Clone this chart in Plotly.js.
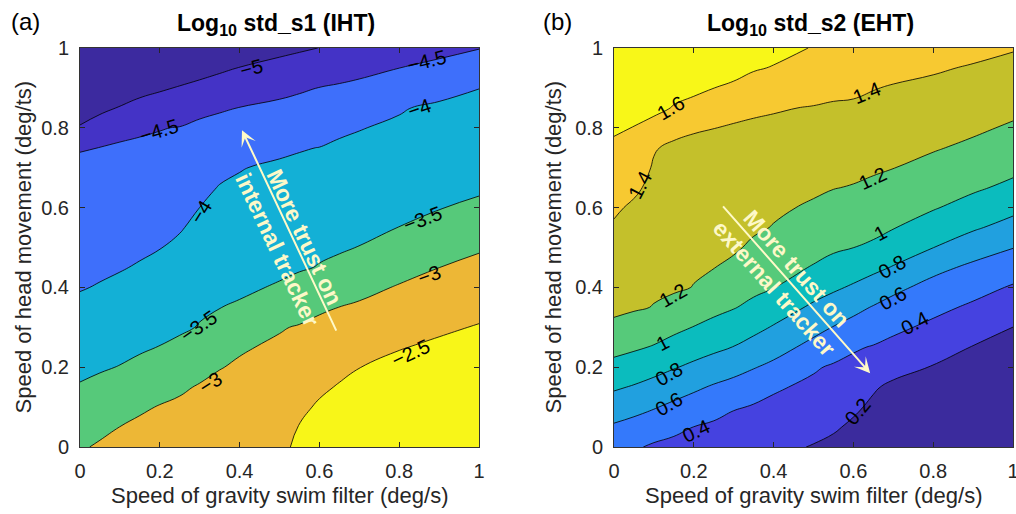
<!DOCTYPE html>
<html><head><meta charset="utf-8">
<script src="https://cdn.plot.ly/plotly-3.0.1.min.js"></script>
<style>html,body{margin:0;padding:0;background:#fff}#chart{width:1016px;height:514px}</style>
</head><body><div id="chart"></div>
<script>
// Grid on which the surfaces were read (speed of swim filter, speed of head movement)
const gridX = [0, 0.05, 0.1, 0.15, 0.2, 0.25, 0.3, 0.35, 0.4, 0.5, 0.55, 0.6, 0.65, 0.7, 0.8, 0.9, 1];
const gridY = [0, 0.05, 0.1, 0.15, 0.2, 0.25, 0.3, 0.35, 0.4, 0.45, 0.5, 0.55, 0.6, 0.65, 0.7, 0.75, 0.8, 0.85, 0.9, 0.95, 1];

// Panel (a): log10 std_s1 (IHT); one column per gridX value, listed from y=0 to y=1
const stdS1Columns = [
  [-3.048,-3.188,-3.329,-3.47,-3.587,-3.698,-3.81,-3.921,-4.021,-4.092,-4.162,-4.233,-4.303,-4.374,-4.445,-4.516,-4.948,-5.32,-5.57,-5.82,-6.07],
  [-2.949,-3.1,-3.251,-3.403,-3.539,-3.649,-3.758,-3.868,-3.978,-4.058,-4.131,-4.204,-4.277,-4.351,-4.424,-4.497,-4.8,-5.099,-5.37,-5.65,-5.92],
  [-2.833,-2.997,-3.16,-3.324,-3.487,-3.6,-3.708,-3.816,-3.924,-4.023,-4.099,-4.175,-4.251,-4.327,-4.403,-4.42,-4.7,-4.978,-5.23,-5.48,-5.73],
  [-2.811,-2.924,-3.056,-3.232,-3.408,-3.55,-3.655,-3.76,-3.866,-3.971,-4.058,-4.138,-4.218,-4.298,-4.377,-4.457,-4.537,-4.858,-5.14,-5.39,-5.64],
  [-2.78,-2.88,-2.98,-3.14,-3.315,-3.49,-3.597,-3.701,-3.805,-3.908,-4.01,-4.094,-4.178,-4.262,-4.346,-4.429,-4.514,-4.796,-5.05,-5.3,-5.55],
  [-2.732,-2.832,-2.932,-3.055,-3.226,-3.397,-3.569,-3.637,-3.735,-3.833,-3.931,-4.028,-4.12,-4.212,-4.304,-4.395,-4.487,-4.719,-4.974,-5.225,-5.475],
  [-2.67,-2.77,-2.87,-2.97,-3.12,-3.286,-3.477,-3.563,-3.65,-3.738,-3.825,-3.913,-3.999,-4.1125,-4.225,-4.337,-4.388,-4.643,-4.898,-5.15,-5.4],
  [-2.657,-2.745,-2.832,-2.92,-3.013,-3.18,-3.346,-3.506,-3.585,-3.664,-3.743,-3.822,-3.901,-3.979,-4.106,-4.25,-4.394,-4.537,-4.818,-5.07,-5.32],
  [-2.64,-2.72,-2.8,-2.88,-2.96,-3.034,-3.256,-3.469,-3.547,-3.626,-3.704,-3.783,-3.862,-3.94,-4.019,-4.189,-4.342,-4.494,-4.74,-4.99,-5.24],
  [-2.56,-2.627,-2.707,-2.786,-2.866,-2.946,-3.025,-3.25,-3.474,-3.555,-3.637,-3.718,-3.8,-3.882,-3.929,-4.09,-4.252,-4.413,-4.615,-4.865,-5.115],
  [-2.45,-2.486,-2.584,-2.681,-2.779,-2.877,-2.975,-3.147,-3.345,-3.544,-3.602,-3.685,-3.769,-3.853,-3.937,-4.02,-4.205,-4.37,-4.553,-4.804,-5.055],
  [-2.3,-2.38,-2.45,-2.569,-2.688,-2.807,-2.926,-3.045,-3.265,-3.481,-3.567,-3.652,-3.738,-3.824,-3.909,-3.995,-4.158,-4.325,-4.493,-4.745,-4.995],
  [-2.14,-2.25,-2.36,-2.47,-2.596,-2.73,-2.864,-2.997,-3.184,-3.372,-3.56,-3.614,-3.701,-3.787,-3.874,-3.918,-4.096,-4.273,-4.45,-4.68,-4.93],
  [-2.0,-2.13,-2.255,-2.38,-2.506,-2.652,-2.798,-2.945,-3.113,-3.296,-3.49,-3.577,-3.665,-3.752,-3.84,-3.927,-4.014,-4.216,-4.403,-4.62,-4.87],
  [-1.89,-2.02,-2.14,-2.27,-2.39,-2.521,-2.67,-2.82,-2.97,-3.142,-3.319,-3.496,-3.587,-3.676,-3.765,-3.854,-3.943,-4.032,-4.288,-4.502,-4.75],
  [-1.805,-1.93,-2.055,-2.18,-2.305,-2.43,-2.564,-2.71,-2.855,-3.002,-3.179,-3.357,-3.518,-3.609,-3.699,-3.79,-3.88,-3.926,-4.157,-4.389,-4.63],
  [-1.725,-1.85,-1.975,-2.1,-2.225,-2.35,-2.475,-2.612,-2.753,-2.893,-3.043,-3.22,-3.397,-3.575,-3.631,-3.724,-3.817,-3.909,-4.005,-4.26,-4.515]
];

// Panel (b): log10 std_s2 (EHT); one column per gridX value, listed from y=0 to y=1
const stdS2Columns = [
  [0.466,0.576,0.699,0.824,0.946,1.054,1.165,1.235,1.26,1.3,1.341,1.381,1.425,1.474,1.523,1.572,1.621,1.671,1.721,1.771,1.821],
  [0.423,0.538,0.658,0.785,0.907,1.024,1.122,1.2195,1.242,1.278,1.313,1.348,1.3745,1.43,1.485,1.54,1.596,1.646,1.696,1.746,1.796],
  [0.374,0.493,0.6125,0.7375,0.8625,0.9875,1.086,1.1945,1.222,1.249,1.276,1.303,1.33,1.357,1.384,1.412,1.542,1.642,1.69,1.74,1.79],
  [0.35,0.444,0.561,0.684,0.812,0.933,1.042,1.135,1.228,1.234,1.26,1.286,1.312,1.338,1.355,1.37,1.453,1.591,1.646,1.696,1.746],
  [0.33,0.398,0.513,0.632,0.763,0.882,0.995,1.089,1.195,1.221,1.248,1.275,1.301,1.328,1.355,1.381,1.408,1.538,1.645,1.695,1.745],
  [0.3,0.37,0.466,0.58,0.712,0.84,0.951,1.047,1.13,1.2045,1.232,1.26,1.289,1.317,1.345,1.373,1.402,1.502,1.601,1.651,1.701],
  [0.27,0.304,0.421,0.539,0.663,0.795,0.904,1.009,1.082,1.155,1.2276,1.242,1.272,1.302,1.333,1.363,1.379,1.474,1.583,1.633,1.683],
  [0.255,0.32,0.384,0.49,0.61,0.733,0.85,0.959,1.039,1.102,1.165,1.2275,1.249,1.282,1.316,1.35,1.3566,1.447,1.536,1.614,1.664],
  [0.24,0.3,0.36,0.4225,0.558,0.673,0.786,0.897,1.004,1.065,1.126,1.192,1.228,1.265,1.301,1.338,1.374,1.411,1.508,1.592,1.645],
  [0.191,0.248,0.305,0.362,0.4196,0.545,0.657,0.77,0.88,0.989,1.055,1.117,1.178,1.227,1.268,1.31,1.352,1.393,1.457,1.525,1.593],
  [0.16,0.22,0.276,0.332,0.3785,0.486,0.594,0.712,0.829,0.938,1.026,1.087,1.147,1.205,1.25,1.294,1.338,1.382,1.4375,1.5,1.5625],
  [0.122,0.172,0.228,0.291,0.355,0.419,0.537,0.651,0.777,0.891,1.001,1.065,1.128,1.191,1.239,1.284,1.33,1.375,1.431,1.499,1.567],
  [0.077,0.124,0.17,0.217,0.309,0.389,0.487,0.588,0.717,0.843,0.975,1.038,1.103,1.167,1.222,1.268,1.313,1.359,1.4065,1.472,1.537],
  [0.032,0.082,0.132,0.167,0.258,0.348,0.44,0.534,0.644,0.789,0.902,1.008,1.073,1.138,1.203,1.249,1.295,1.342,1.388,1.45,1.518],
  [-0.009,0.041,0.091,0.141,0.191,0.272,0.36,0.449,0.54,0.652,0.802,0.912,1.014,1.082,1.151,1.214,1.264,1.314,1.364,1.419,1.487],
  [-0.057,-0.007,0.043,0.093,0.143,0.193,0.279,0.37,0.466,0.563,0.689,0.824,0.932,1.027,1.097,1.168,1.228,1.281,1.334,1.386,1.45],
  [-0.1,-0.05,0.0,0.05,0.1,0.15,0.199,0.291,0.382,0.491,0.605,0.732,0.85,0.959,1.042,1.111,1.179,1.24,1.297,1.353,1.412]
];

// Contour levels
const levelsA = [-5, -4.5, -4, -3.5, -3, -2.5];
const levelsB = [0.2, 0.4, 0.6, 0.8, 1.0, 1.2, 1.4, 1.6];

// Band colours from lowest band to highest band
const bandColorsA = ['#3c2a9f', '#4433c6', '#3e6ffb', '#13b0d6', '#56c97a', '#edb736', '#f8f618'];
const bandColorsB = ['#3b2b9d', '#4542e0', '#3479fb', '#21a0df', '#0bbcbe', '#56ca7a', '#c4c02b', '#f7c931', '#f8f718'];

const tickVals = [0, 0.2, 0.4, 0.6, 0.8, 1];
const tickText = ['0', '0.2', '0.4', '0.6', '0.8', '1'];

const FONT = 'Liberation Sans, Arial, Helvetica, sans-serif';
const W = 1016, H = 514;
const px = v => v / W;
const py = v => 1 - v / H;

function scale(colors) {
  const n = colors.length - 1;
  return colors.map((c, i) => [i / n, c]);
}

function contourTrace(cols, levels, colors, xa, ya) {
  return {
    type: 'contour',
    x: gridX, y: gridY, z: cols, transpose: true,
    xaxis: xa, yaxis: ya,
    colorscale: scale(colors), showscale: false,
    autocontour: false,
    contours: {
      start: levels[0], end: levels[levels.length - 1], size: levels[1] - levels[0],
      coloring: 'fill', showlabels: false
    },
    line: {color: '#000', width: 0.8, smoothing: 1.3},
    hoverinfo: 'skip'
  };
}

const data = [
  contourTrace(stdS1Columns, levelsA, bandColorsA, 'x', 'y'),
  contourTrace(stdS2Columns, levelsB, bandColorsB, 'x2', 'y2')
];

function axis(domain, anchor) {
  return {
    domain: domain, anchor: anchor, range: [0, 1],
    tickmode: 'array', tickvals: tickVals, ticktext: tickText,
    ticks: 'inside', ticklen: 5, tickwidth: 1, tickcolor: '#262626',
    showline: true, linecolor: '#333', linewidth: 1, mirror: 'ticks',
    showgrid: false, zeroline: false,
    tickfont: {family: FONT, size: 20, color: '#262626'},
    ticklabelstandoff: 6, ticklabeloverflow: 'allow',
    fixedrange: true
  };
}

// contour label placements: [level, x, y, text angle]
const labelsA = [
  [-5, 0.430, 0.951, -15], [-4.5, 0.196, 0.793, -17], [-4.5, 0.869, 0.967, -14],
  [-4, 0.302, 0.590, -58], [-4, 0.852, 0.849, -19], [-3.5, 0.298, 0.303, -35],
  [-3.5, 0.859, 0.571, -21], [-3, 0.326, 0.161, -33], [-3, 0.876, 0.431, -20],
  [-2.5, 0.829, 0.235, -25]
];
const labelsB = [
  [1.6, 0.142, 0.849, -30], [1.4, 0.065, 0.657, -62], [1.4, 0.633, 0.886, -22],
  [1.2, 0.149, 0.381, -30], [1.2, 0.65, 0.673, -25], [1, 0.122, 0.261, -28],
  [1, 0.668, 0.536, -28], [0.8, 0.138, 0.183, -30], [0.8, 0.696, 0.452, -30],
  [0.6, 0.138, 0.108, -30], [0.6, 0.70, 0.373, -28], [0.4, 0.205, 0.041, -25],
  [0.4, 0.754, 0.310, -28], [0.2, 0.612, 0.089, -50]
];
const fmt = v => (v < 0 ? '\u2212' + Math.abs(v) : String(v));
function labelAnns(list, xr, yr) {
  return list.map(([lv, x, y, a]) => ({
    xref: xr, yref: yr, x: x, y: y, text: fmt(lv), textangle: a, showarrow: false,
    xanchor: 'center', yanchor: 'middle', font: {family: FONT, size: 20, color: '#000'}
  }));
}

function paperText(text, x, y, size, color, extra) {
  return Object.assign({text: text, x: px(x), y: py(y), xref: 'paper', yref: 'paper',
    xanchor: 'center', yanchor: 'middle', showarrow: false,
    font: {family: FONT, size: size, color: color}}, extra || {});
}

const yDom = [(H - 447) / H, (H - 48) / H];
const layout = {
  width: W, height: H,
  margin: {l: 0, r: 0, t: 0, b: 0},
  paper_bgcolor: '#fff', plot_bgcolor: '#fff',
  showlegend: false,
  font: {family: FONT, color: '#262626'},
  xaxis: axis([px(80), px(479)], 'y'),
  yaxis: axis(yDom, 'x'),
  xaxis2: axis([px(614), px(1013)], 'y2'),
  yaxis2: axis(yDom, 'x2'),
  annotations: [
    paperText('(a)', 25, 22, 24, '#000'),
    paperText('(b)', 557, 22, 24, '#000'),
    paperText('<b>Log<sub>10</sub> std_s1 (IHT)</b>', 276, 24, 23, '#000'),
    paperText('<b>Log<sub>10</sub> std_s2 (EHT)</b>', 810, 24, 23, '#000'),
    paperText('Speed of gravity swim filter (deg/s)', 279.5, 495, 22, '#262626'),
    paperText('Speed of gravity swim filter (deg/s)', 813.5, 495, 22, '#262626'),
    paperText('Speed of head movement (deg/ts)', 23, 247.5, 22, '#262626', {textangle: -90}),
    paperText('Speed of head movement (deg/ts)', 553, 247.5, 22, '#262626', {textangle: -90}),
    // arrows
    {xref: 'x', yref: 'y', axref: 'x', ayref: 'y', x: 0.406, y: 0.794, ax: 0.644, ay: 0.288, text: '', showarrow: true, arrowhead: 3, arrowsize: 1.3, arrowwidth: 2, arrowcolor: '#fffac8'},
    {xref: 'x2', yref: 'y2', axref: 'x2', ayref: 'y2', x: 0.642, y: 0.185, ax: 0.27, ay: 0.607, text: '', showarrow: true, arrowhead: 3, arrowsize: 1.3, arrowwidth: 2, arrowcolor: '#fffac8'},
    {xref: 'x', yref: 'y', x: 0.530, y: 0.510, xanchor: 'center', yanchor: 'middle', text: '<b>More trust on<br>internal tracker</b>', textangle: 64.8, showarrow: false, font: {family: FONT, size: 23, color: '#fdf8c8'}},
    {xref: 'x2', yref: 'y2', x: 0.4286, y: 0.4236, xanchor: 'center', yanchor: 'middle', text: '<b>More trust on<br>external tracker</b>', textangle: 48.6, showarrow: false, font: {family: FONT, size: 23, color: '#fdf8c8'}}
  ].concat(labelAnns(labelsA, 'x', 'y'), labelAnns(labelsB, 'x2', 'y2'))
};

Plotly.newPlot('chart', data, layout, {staticPlot: true, displayModeBar: false});
</script>
</body></html>
